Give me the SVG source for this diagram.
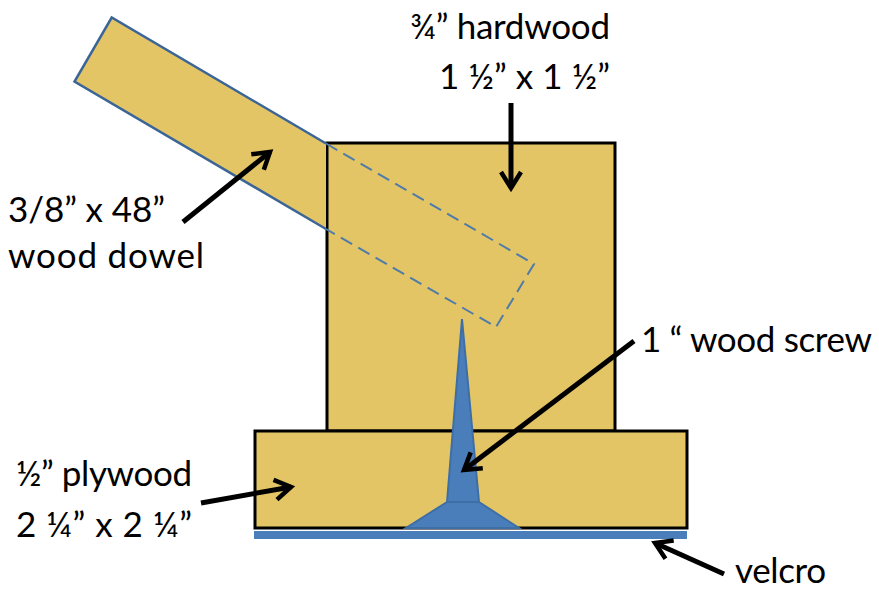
<svg xmlns="http://www.w3.org/2000/svg" width="879" height="599" viewBox="0 0 879 599">
<defs><marker id="a" markerUnits="userSpaceOnUse" markerWidth="24" markerHeight="26" refX="19" refY="13" orient="auto"><path d="M3 3 L19 13 L3 23" fill="none" stroke="#000" stroke-width="4.5"/></marker></defs>
<style>
.w{fill:#e3c566;stroke:#000;stroke-width:3}
.l{stroke:#000;stroke-width:5;fill:none;marker-end:url(#a)}
text{font-family:Lato,"Liberation Sans",sans-serif;font-size:35px;fill:#000}
</style>
<rect width="879" height="599" fill="#fff"/>
<g id="hardwood"><rect class="w" x="327" y="143" width="288" height="288"/></g>
<g id="dowel">
<path d="M326 143.500 L111.700 17.500 L74.500 81.500 L326 229Z" fill="#e3c566"/>
<path d="M326 143.500 L111.700 17.500 L74.500 81.500 L326 229" fill="none" stroke="#3b6597" stroke-width="2.500"/>
<path d="M326 143.500 L534 264 L496 327 L326 229" fill="none" stroke="#4f7ba8" stroke-width="2" stroke-dasharray="13 7"/>
</g>
<g id="plywood"><rect class="w" x="255" y="431" width="432" height="97"/></g>
<g id="screw"><path d="M462 319 L479 502 L519 528 L406 528 L447 502Z M447 502 L479 502" fill="#4a7ebb" stroke="#3e6ea6" stroke-width="2"/></g>
<g id="velcro"><rect x="254" y="531" width="433" height="8" fill="#4a7ebb"/></g>
<g id="connectors">
<path class="l" d="M511 103 L511 188"/>
<path class="l" d="M183 222 L270 152"/>
<path class="l" d="M634 341 L464 470"/>
<path class="l" d="M201 503 L291 487"/>
<path class="l" d="M724 574 L655 543"/>
</g>
<g id="labels">
<text x="410" y="39" textLength="200">¾” hardwood</text>
<text x="439" y="89" textLength="171">1 ½” x 1 ½”</text>
<text x="8" y="222" textLength="157">3/8” x 48”</text>
<text x="8" y="268" textLength="196">wood dowel</text>
<text x="641" y="352" textLength="231">1 “ wood screw</text>
<text x="16" y="486" textLength="176">½” plywood</text>
<text x="16" y="537" textLength="176">2 ¼” x 2 ¼”</text>
<text x="735" y="583" textLength="91">velcro</text>
</g>
</svg>
